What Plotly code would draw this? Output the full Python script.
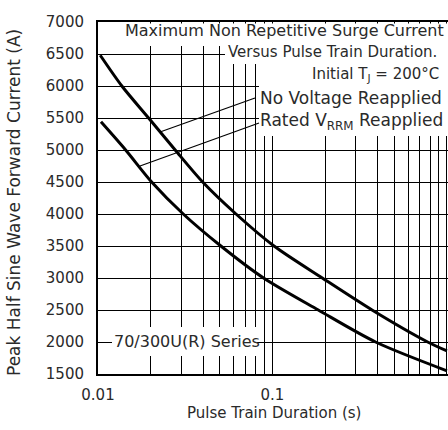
import plotly.graph_objects as go

# Data
upper_x = [0.0103, 0.0137, 0.0195, 0.0277, 0.0398, 0.0618, 0.102, 0.193, 0.372, 0.775, 1.0]
upper_y = [6480, 6000, 5500, 5000, 4500, 4000, 3500, 3000, 2500, 2000, 1860]
lower_x = [0.0104, 0.0144, 0.0203, 0.0308, 0.0506, 0.0889, 0.183, 0.390, 1.0]
lower_y = [5440, 5000, 4500, 4000, 3500, 3000, 2500, 2000, 1550]

x_tickvals = [0.01, 0.02, 0.03, 0.04, 0.05, 0.06, 0.07, 0.08, 0.09,
              0.1, 0.2, 0.3, 0.4, 0.5, 0.6, 0.7, 0.8, 0.9, 1]
x_ticktext = ["0.01", "", "", "", "", "", "", "", "",
              "0.1", "", "", "", "", "", "", "", "", "1"]
y_tickvals = [1500, 2000, 2500, 3000, 3500, 4000, 4500, 5000, 5500, 6000, 6500, 7000]

FONT = "DejaVu Sans"
W, H = 448, 430
L, R, T, B = 98, 0, 22, 56
pw, ph = W - L - R, H - T - B


def px(xp):
    return (xp - L) / pw


def py(yp):
    return (H - B - yp) / ph


fig = go.Figure()
fig.add_trace(go.Scatter(x=upper_x, y=upper_y, mode="lines",
                         line=dict(color="black", width=3, shape="spline", smoothing=0.8),
                         showlegend=False, hoverinfo="skip"))
fig.add_trace(go.Scatter(x=lower_x, y=lower_y, mode="lines",
                         line=dict(color="black", width=3, shape="spline", smoothing=0.8),
                         showlegend=False, hoverinfo="skip"))

shapes = []
# white boxes hiding grid lines behind the texts
for (x0, y0, x1, y1) in [(99.5, 23.5, 448, 46), (225, 46, 448, 64),
                         (259, 64, 448, 136), (112, 327, 257, 356)]:
    shapes.append(dict(type="rect", xref="paper", yref="paper",
                       x0=px(x0), x1=px(x1), y0=py(y1), y1=py(y0),
                       fillcolor="white", line=dict(width=0), layer="above"))
# leader lines
shapes.append(dict(type="line", xref="paper", yref="paper",
                   x0=px(160), y0=py(132), x1=px(255), y1=py(98),
                   line=dict(color="black", width=1.2)))
shapes.append(dict(type="line", xref="paper", yref="paper",
                   x0=px(140), y0=py(166), x1=px(259), y1=py(123),
                   line=dict(color="black", width=1.2)))

tc = "#2a2a2a"
annotations = [
    dict(text="Maximum Non Repetitive Surge Current", x=px(284), y=py(31),
         xanchor="center", yanchor="middle", size=16),
    dict(text="Versus Pulse Train Duration.", x=px(226), y=py(52),
         xanchor="left", yanchor="middle", size=15),
    dict(text="Initial T<sub>J</sub> = 200°C", x=px(441), y=py(74),
         xanchor="right", yanchor="middle", size=15),
    dict(text="No Voltage Reapplied", x=px(258), y=py(98),
         xanchor="left", yanchor="middle", size=17),
    dict(text="Rated V<sub>RRM</sub> Reapplied", x=px(258), y=py(121),
         xanchor="left", yanchor="middle", size=17),
    dict(text="70/300U(R) Series", x=px(112), y=py(341),
         xanchor="left", yanchor="middle", size=16),
]
for a in annotations:
    s = a.pop("size")
    a.update(xref="paper", yref="paper", showarrow=False,
             font=dict(family=FONT, size=s, color=tc))
annotations.append(dict(text="Peak Half Sine Wave Forward Current (A)",
                        x=px(14), y=py(203), xref="paper", yref="paper",
                        textangle=-90, showarrow=False,
                        xanchor="center", yanchor="middle",
                        font=dict(family=FONT, size=17, color=tc)))
annotations.append(dict(text="Pulse Train Duration (s)",
                        x=px(274), y=py(413), xref="paper", yref="paper",
                        showarrow=False, xanchor="center", yanchor="middle",
                        font=dict(family=FONT, size=15, color=tc)))

fig.update_layout(
    width=W, height=H,
    margin=dict(l=L, r=R, t=T, b=B, autoexpand=False),
    paper_bgcolor="white", plot_bgcolor="white",
    shapes=shapes, annotations=annotations,
    xaxis=dict(type="log", range=[-2, 0.006], tickvals=x_tickvals, ticktext=x_ticktext,
               showgrid=True, gridcolor="black", gridwidth=1.3,
               showline=True, linecolor="black", linewidth=2, mirror=True,
               ticks="", zeroline=False, ticklabelstandoff=6, automargin=False,
               tickfont=dict(family=FONT, size=15, color=tc)),
    yaxis=dict(range=[1500, 7000], tickvals=y_tickvals,
               showgrid=True, gridcolor="black", gridwidth=1.3,
               showline=True, linecolor="black", linewidth=2, mirror=True,
               ticks="", zeroline=False, ticklabelstandoff=9, automargin=False,
               tickfont=dict(family=FONT, size=15, color=tc)),
)

fig.write_html("out.html", config={"displayModeBar": False},
               post_script="document.body.style.margin='0';"
                           "document.body.style.overflow='hidden';")
